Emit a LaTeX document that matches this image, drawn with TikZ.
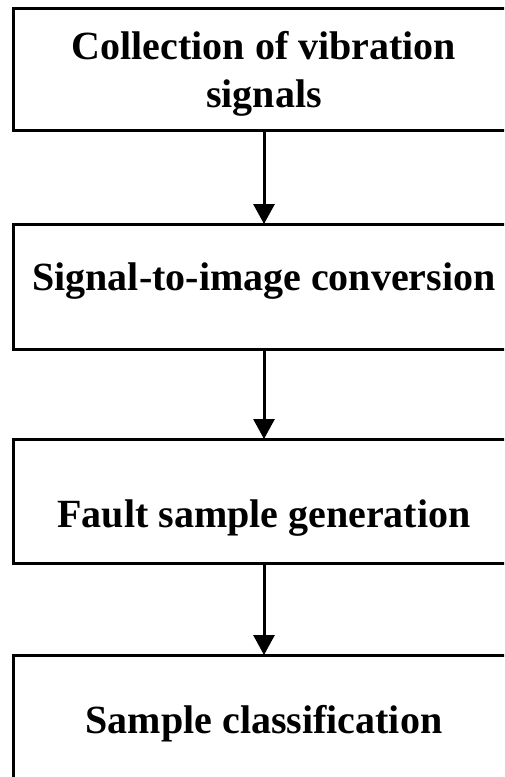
\documentclass[tikz,border=0pt]{standalone}
\usepackage{fontspec}
\setmainfont{Liberation Serif}
\usetikzlibrary{arrows.meta}
\begin{document}
\begin{tikzpicture}[x=1pt,y=-1pt,
  flowbox/.style={draw=black,line width=3pt,rectangle,minimum width=502pt,inner sep=0pt,outer sep=0pt},
  boxtext/.style={anchor=base,inner sep=0pt,font=\fontsize{40}{48}\selectfont\bfseries},
  flowarrow/.style={line width=3pt,-{Triangle[width=21pt,length=20pt]}}]
\useasboundingbox (0,0) rectangle (504,777);
\clip (0,0) rectangle (504,777);
\node[flowbox,minimum height=122pt] (b1) at (264,69) {};
\node[flowbox,minimum height=125pt] (b2) at (264,286.5) {};
\node[flowbox,minimum height=124pt] (b3) at (264,501) {};
\node[flowbox,minimum height=135pt] (b4) at (264,722.5) {};
\node[boxtext] (t1a) at (264,59) {Collection of vibration};
\node[boxtext] (t1b) at (264,107) {signals};
\node[boxtext] (t2) at (264,290) {Signal-to-image conversion};
\node[boxtext] (t3) at (264,527) {Fault sample generation};
\node[boxtext] (t4) at (264,733) {Sample classification};
\draw[flowarrow] (b1.south) -- (b2.north);
\draw[flowarrow] (b2.south) -- (b3.north);
\draw[flowarrow] (b3.south) -- (b4.north);
\end{tikzpicture}
\end{document}
